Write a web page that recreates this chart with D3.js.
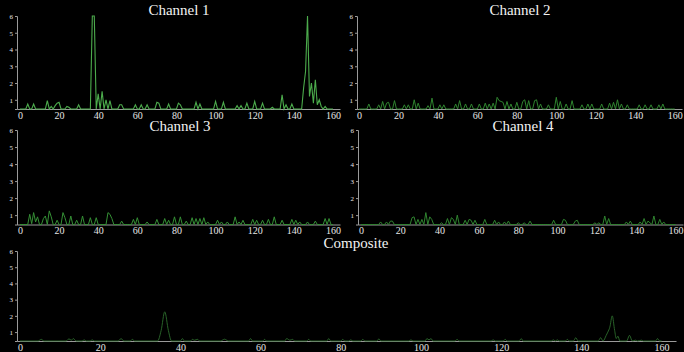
<!DOCTYPE html>
<html>
<head>
<meta charset="utf-8">
<script src="https://cdn.jsdelivr.net/npm/d3@7"></script>
<style>
  body { margin: 0; background: #000; }
  svg { display: block; background: #000; }
  .axis text { fill: #e6e6e6; }
  .axis path, .axis line { stroke: #9a9a9a; }
  .title { fill: #f2f2f2; font-family: "Liberation Serif", "DejaVu Serif", serif; font-size: 15px; text-anchor: middle; }
</style>
</head>
<body>
<svg id="chart" width="684" height="352"></svg>
<script>
// tick labels
var xTicks = [0, 20, 40, 60, 80, 100, 120, 140, 160];
var yTicks = [1, 2, 3, 4, 5, 6];
var titles = ["Channel 1", "Channel 2", "Channel 3", "Channel 4", "Composite"];

// channel values, one sample per x = 0..160
var ch1 = [
  .45,.45,.45,.45,.75,.45,.45,.75,.45,.45,
  .45,.45,.45,.45,.95,.45,.6,.45,.65,.8,
  .85,.45,.45,.45,.6,.55,.45,.45,.45,.45,
  .7,.45,.45,.45,.45,.45,.45,6,6,.45,
  1.35,.45,1.5,.45,1,.45,.95,.45,.45,.45,
  .45,.7,.7,.45,.45,.45,.45,.45,.45,.7,
  .45,.45,.7,.45,.45,.7,.45,.45,.45,.45,
  .85,.8,.45,.45,.45,.45,.75,.45,.45,.45,
  .45,.8,.7,.45,.45,.45,.45,.45,.45,.45,
  .85,.45,.75,.45,.45,.45,.45,.45,.45,.45,
  .9,.45,.45,.45,.85,.45,.45,.45,.45,.45,
  .45,.65,.45,.65,.45,.45,.8,.45,.45,.45,
  .9,.45,.45,.45,.8,.45,.45,.45,.45,.55,
  .45,.45,.45,.45,1.3,.45,.7,.45,.45,.75,
  .45,.45,.45,.45,.45,1.7,2.7,6,1.2,2,
  .8,2.2,.7,1,.6,.45,.6,.45,.45,.45,
  .45
];
var ch2 = [
  .45,.45,.45,.45,.45,.75,.45,.45,.45,.45,
  .7,.45,.9,.45,.8,.85,.45,.45,.95,.45,
  .45,.45,.45,.7,.45,.7,.45,.45,1,.45,
  .8,.45,.45,.45,.45,.65,.45,1.1,.45,.45,
  .45,.7,.45,.7,.45,.45,.45,.45,.45,.75,
  .45,.95,.45,.45,.75,.45,.45,.75,.45,.45,
  .45,.75,.45,.45,.8,.45,.75,.45,.8,.45,
  1.15,.95,.9,.85,.45,.9,.45,.75,.45,.45,
  .85,.45,.45,.9,1,.45,.95,.45,.45,.95,
  1,.45,.75,.45,.45,.45,.7,.45,.45,.45,
  1.15,.45,.9,.45,.45,.75,.45,.45,.95,.45,
  .45,.45,.45,.7,.45,.45,.75,.45,.75,.45,
  .45,.45,.45,.75,.45,.45,.45,.8,.45,.85,
  .45,1,.45,.75,.45,.45,.7,.45,.45,.45,
  .45,.45,.7,.45,.45,.7,.45,.45,.7,.45,
  .45,.45,.7,.45,.75,.45,.45,.45,.45,.45,
  .45
];
var ch3 = [
  .45,.45,.45,.45,.45,1.05,.5,1.15,.6,.9,
  .45,.45,.8,.95,.45,1.25,.9,.45,.45,.7,
  .45,.45,1.15,.85,.45,.45,.95,.45,.45,.7,
  .45,.45,.95,.45,.45,.45,.85,.45,.45,.85,
  .45,.45,.45,.45,.45,1.15,1.05,.8,.45,.45,
  .45,.45,.65,.45,.45,.45,.45,.45,.75,.45,
  .85,.45,.45,.45,.45,.6,.45,.45,.45,.45,
  .75,.45,.45,.45,.8,.45,.7,.45,.45,.9,
  .45,.45,.9,.45,.45,.65,.45,.45,.85,.45,
  .8,.45,.8,.45,.85,.45,.6,.45,.45,.45,
  .45,.7,.45,.6,.45,.45,.6,.45,.45,.45,
  .9,.45,.6,.45,.7,.45,.45,.45,.45,.75,
  .45,.7,.45,.45,.7,.45,.45,.75,.45,.45,
  .9,.45,.45,.45,.7,.45,.45,.45,.45,.75,
  .45,.7,.45,.6,.45,.45,.45,.6,.45,.45,
  .45,.65,.45,.45,.45,.45,.8,.45,.8,.45,
  .45
];
var ch4 = [
  .45,.45,.45,.45,.45,.45,.45,.45,.45,.45,
  .6,.45,.45,.6,.45,.65,.65,.45,.45,.45,
  .45,.45,.45,.45,.45,.45,.85,.9,.45,.75,
  .45,.75,.45,1.15,.45,.9,.75,.45,.45,.45,
  .45,.55,.45,.45,.8,.45,.85,.75,.45,1,
  .45,.45,.45,.7,.45,.75,.7,.45,.7,.45,
  .45,.45,.45,.75,.45,.45,.45,.45,.7,.45,
  .6,.45,.45,.6,.45,.65,.45,.45,.45,.45,
  .55,.45,.45,.55,.45,.45,.65,.45,.45,.45,
  .45,.45,.45,.45,.45,.45,.45,.45,.7,.45,
  .45,.45,.45,.75,.7,.45,.45,.45,.45,.65,
  .7,.45,.45,.45,.45,.45,.45,.45,.45,.55,
  .45,.55,.45,.45,.95,.45,.8,.45,.45,.45,
  .45,.45,.45,.45,.45,.6,.45,.65,.45,.45,
  .45,.45,.6,.45,.8,.45,.65,.55,.45,.95,
  .45,.45,.75,.45,.6,.45,.45,.45,.45,.45,
  .45
];

// composite samples (x positions and values)
var compX = [
  0,4.5,5.3,6,11.5,12.2,12.8,13.3,14,15.5,16,16.5,17.5,18,18.6,24.5,25.2,25.9,27.5,28,28.6,
  34.3,35.2,36.1,37,37.8,40,40.5,41,42.5,43,43.5,44.3,44.8,50,51,52,57,57.5,58,60.5,61,61.5,
  66,66.5,67.3,68,68.5,71.5,72,72.5,76.5,77,77.5,80,80.5,81,82,82.5,83,85,85.5,86,89,89.5,90,
  97,97.5,98,101,101.5,102,102.5,103,108.5,109,109.5,117.5,118,118.5,120.5,121,121.5,124.5,125,125.5,
  132.5,133,133.5,134,134.5,136,136.5,137,138,138.6,139.2,144.2,144.8,145.4,146.2,146.6,147.1,147.7,
  148.3,148.7,149.1,149.6,151.3,152,152.7,153.5,154,155,155.5,158.5,159,159.5,160
];
var compY = [
  .45,.45,.55,.45,.45,.58,.5,.6,.45,.45,.52,.45,.45,.52,.45,.45,.6,.45,.45,.55,.45,
  .45,1.1,2.25,1.1,.45,.45,.6,.45,.45,.55,.5,.55,.45,.45,.56,.45,.45,.6,.45,.45,.55,.45,
  .45,.6,.5,.55,.45,.45,.55,.45,.45,.6,.45,.45,.55,.45,.45,.52,.45,.45,.55,.45,.45,.58,.45,
  .45,.52,.45,.45,.6,.52,.6,.45,.45,.55,.45,.45,.52,.45,.45,.55,.45,.45,.6,.45,
  .45,.52,.45,.52,.45,.45,.55,.45,.45,.65,.45,.45,.65,.45,.8,1,1.3,2,
  1.1,.6,.75,.45,.45,.8,.45,.5,.45,.5,.45,.45,.6,.45,.45
];

var svg = d3.select("#chart");
var serif = "'Liberation Serif', 'DejaVu Serif', serif";

// panel placement
var panels = [
  { title: titles[0], data: ch1.map(function (v, i) { return [i, v]; }), xd: [-1.5, 163.6], xr: [17, 340], yr: [109, 16], tx: 179, ty: 15, color: "#4cab4c", w: 1.1 },
  { title: titles[1], data: ch2.map(function (v, i) { return [i, v]; }), xd: [-1, 163.7], xr: [357, 682], yr: [109, 16], tx: 520, ty: 15, color: "#2f842f", w: 1 },
  { title: titles[2], data: ch3.map(function (v, i) { return [i, v]; }), xd: [-1.5, 163.6], xr: [17, 340], yr: [224.5, 130], tx: 180, ty: 131, color: "#359035", w: 1 },
  { title: titles[3], data: ch4.map(function (v, i) { return [i, v]; }), xd: [-1.5, 163.8], xr: [358, 683], yr: [224.5, 130], tx: 523, ty: 131, color: "#2f842f", w: 1 },
  { title: titles[4], data: compX.map(function (v, i) { return [v, compY[i]]; }), xd: [-0.75, 163.6], xr: [17, 676], yr: [341, 251], tx: 356, ty: 248, color: "#2c6c2c", w: 0.9, smooth: true }
];

panels.forEach(function (p) {
  var x = d3.scaleLinear().domain(p.xd).range(p.xr);
  var y = d3.scaleLinear().domain([0.45, 6]).range(p.yr);

  var g = svg.append("g");

  g.append("g")
    .attr("class", "axis")
    .attr("transform", "translate(0," + p.yr[0] + ")")
    .call(d3.axisBottom(x).tickValues(xTicks).tickFormat(d3.format("d")).tickSize(0).tickPadding(2.5))
    .attr("font-family", serif)
    .attr("font-size", 10);

  g.append("g")
    .attr("class", "axis")
    .attr("transform", "translate(" + p.xr[0] + ",0)")
    .call(d3.axisLeft(y).tickValues(yTicks).tickFormat(d3.format("d")).tickSize(2).tickPadding(2))
    .attr("font-family", serif)
    .attr("font-size", 7);

  var line = d3.line()
    .x(function (d) { return x(d[0]); })
    .y(function (d) { return y(d[1]); })
    .curve(p.smooth ? d3.curveMonotoneX : d3.curveLinear);

  g.append("path")
    .datum(p.data)
    .attr("fill", "none")
    .attr("stroke", p.color)
    .attr("stroke-width", p.w)
    .attr("d", line);

  g.append("text")
    .attr("class", "title")
    .attr("x", p.tx)
    .attr("y", p.ty)
    .text(p.title);
});
</script>
</body>
</html>
